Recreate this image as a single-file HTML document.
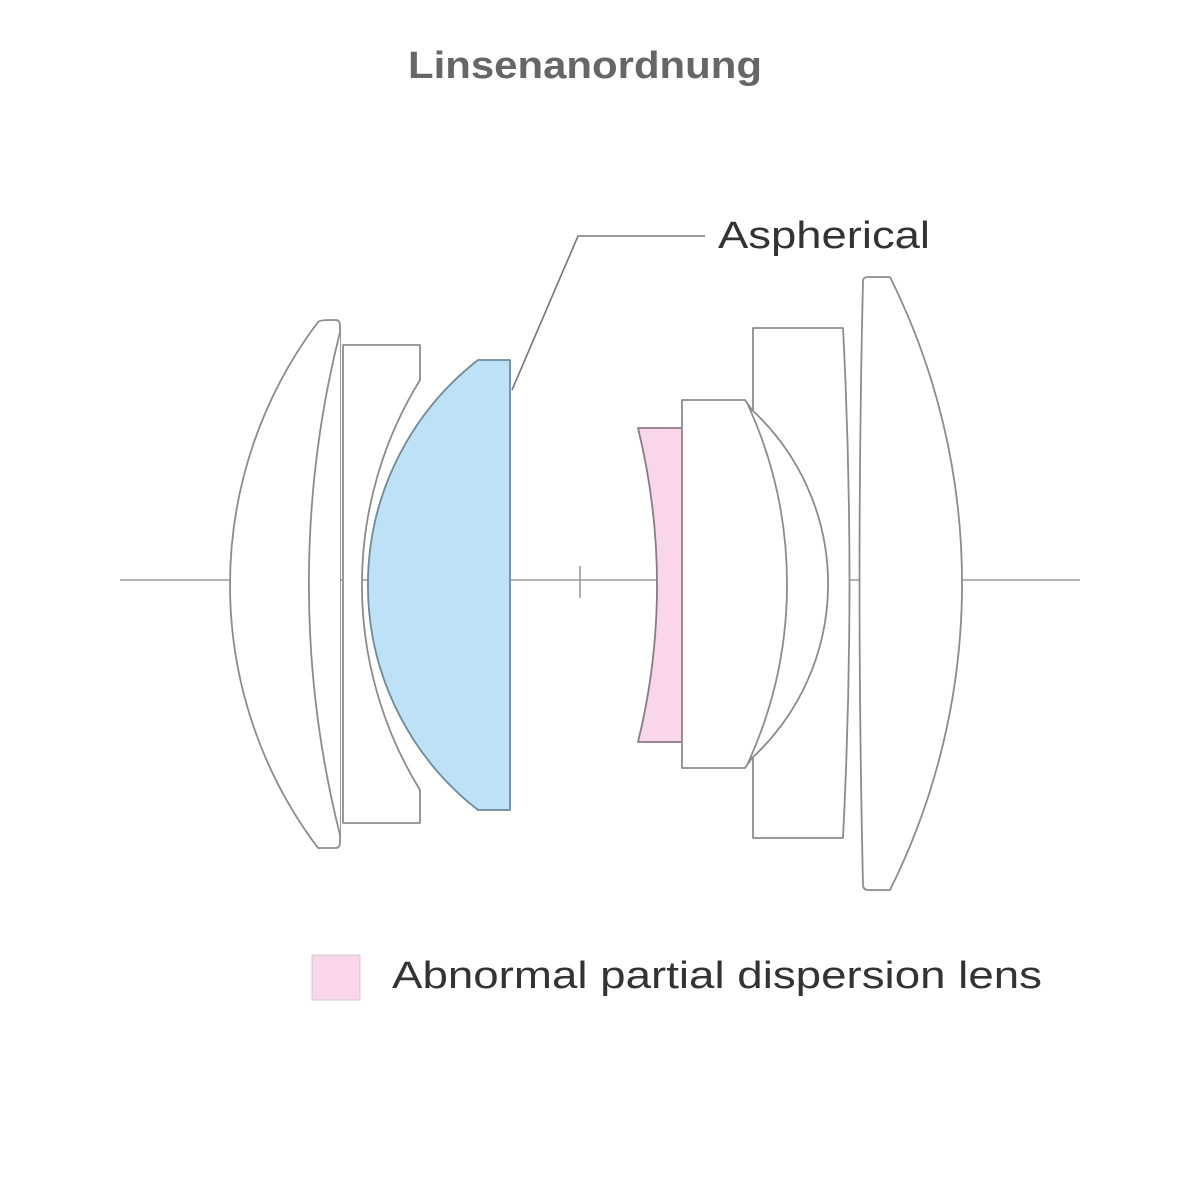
<!DOCTYPE html>
<html><head><meta charset="utf-8"><style>html,body{margin:0;padding:0;background:#fff}svg{display:block}</style></head>
<body>
<svg width="1200" height="1200" viewBox="0 0 1200 1200" xmlns="http://www.w3.org/2000/svg">
<rect width="1200" height="1200" fill="#fff"/>
<text x="408" y="78" font-family="Liberation Sans, sans-serif" font-weight="bold" font-size="38" fill="#666" textLength="354" lengthAdjust="spacingAndGlyphs">Linsenanordnung</text>
<g fill="none" stroke="#9a9a9a" stroke-width="1.6">
<line x1="120" y1="580" x2="1080" y2="580"/>
<line x1="580" y1="566" x2="580" y2="598"/>
</g>
<g fill="#fff" stroke="#8c8c8c" stroke-width="1.8" stroke-linejoin="round">
<!-- lens 1 -->
<path d="M318,322 Q320,320 330,320 L336,320 Q340,320 340,326 L340,842 Q340,848 336,848 L330,848 Q320,848 318,848 A437,437 0 0 1 318,322 Z"/>
<path d="M340,332 A1032,1032 0 0 0 340,835"/>
<!-- lens 2 -->
<path d="M343,345 L420,345 L420,380 A391,391 0 0 0 420,790 L420,823 L343,823 Z"/>
<!-- blue aspherical -->
<path d="M478,360 L510,360 L510,810 L478,810 A285,285 0 0 1 478,360 Z" fill="#bde2f7" stroke="#6f8a98"/>
<!-- pink -->
<path d="M638,428 L682,428 L682,742 L638,742 A658,658 0 0 0 638,428 Z" fill="#f9d6ea" stroke="#8c7a86"/>
<!-- rear cemented group -->
<path d="M753,328 L843,328 Q856,580 843,838 L753,838 Z"/>
<path d="M682,400 L745,400 L752,410 A237,237 0 0 1 752,758 L745,768 L682,768 Z"/>
<path d="M748,405 A430,430 0 0 1 748,763"/>
<!-- last lens -->
<path d="M863,280 Q864,277 868,277 L890,277 A688,688 0 0 1 890,890 L868,890 Q864,890 863,886 Q856,580 863,280 Z"/>
</g>
<polyline points="512,390 578,236 705,236" fill="none" stroke="#777" stroke-width="1.6"/>
<text x="718" y="248" font-family="Liberation Sans, sans-serif" font-size="38" fill="#333" textLength="212" lengthAdjust="spacingAndGlyphs">Aspherical</text>
<rect x="312" y="955" width="48" height="45" fill="#f9d6ea" stroke="#ccc" stroke-width="1"/>
<text x="392" y="988" font-family="Liberation Sans, sans-serif" font-size="38" fill="#333" textLength="650" lengthAdjust="spacingAndGlyphs">Abnormal partial dispersion lens</text>
</svg>
</body></html>
